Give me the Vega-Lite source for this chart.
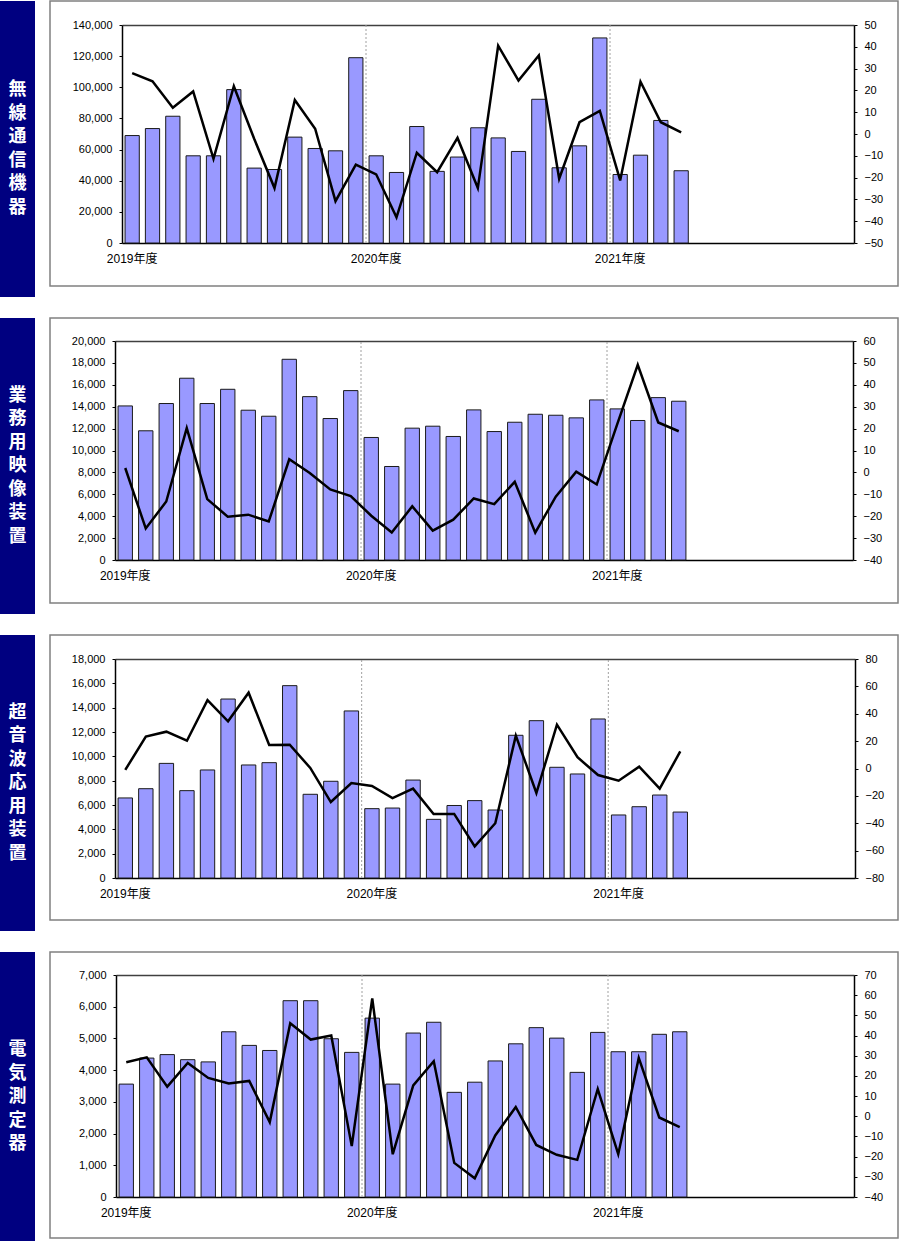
{
  "$schema": "https://vega.github.io/schema/vega-lite/v6.json",
  "padding": 0,
  "background": "white",
  "spacing": 20,
  "config": {
    "view": {"stroke": null},
    "font": "Liberation Sans, Noto Sans CJK JP",
    "axis": {"labelFont": "Liberation Sans, Noto Sans CJK JP", "labelFontSize": 11, "labelColor": "black", "domainColor": "black", "domainWidth": 1.5, "tickColor": "black", "grid": false, "title": null},
    "concat": {"spacing": 14}
  },
  "datasets": {
    "p1": [
      {"m":"2019-04","v":69000,"r":27.9},{"m":"2019-05","v":73500,"r":24.2},{"m":"2019-06","v":81400,"r":12.0},{"m":"2019-07","v":56000,"r":19.5},
      {"m":"2019-08","v":56000,"r":-11.4},{"m":"2019-09","v":98500,"r":21.9},{"m":"2019-10","v":48100,"r":-2.2},{"m":"2019-11","v":47200,"r":-24.8},
      {"m":"2019-12","v":68000,"r":15.6},{"m":"2020-01","v":60700,"r":2.4},{"m":"2020-02","v":59200,"r":-30.8},{"m":"2020-03","v":119000,"r":-14},
      {"m":"2020-04","v":56000,"r":-18.5},{"m":"2020-05","v":45300,"r":-38.2},{"m":"2020-06","v":74800,"r":-8.6},{"m":"2020-07","v":46000,"r":-17.5},
      {"m":"2020-08","v":55200,"r":-1.8},{"m":"2020-09","v":74000,"r":-24.8},{"m":"2020-10","v":67500,"r":40.5},{"m":"2020-11","v":58800,"r":24.5},
      {"m":"2020-12","v":92300,"r":36},{"m":"2021-01","v":48300,"r":-20.5},{"m":"2021-02","v":62400,"r":5.4},{"m":"2021-03","v":131700,"r":10.6},
      {"m":"2021-04","v":44000,"r":-21.3},{"m":"2021-05","v":56400,"r":24},{"m":"2021-06","v":78700,"r":5.4},{"m":"2021-07","v":46400,"r":0.8}
    ],
    "p2": [
      {"m":"2019-04","v":14070,"r":2},{"m":"2019-05","v":11800,"r":-25.6},{"m":"2019-06","v":14290,"r":-13.3},{"m":"2019-07","v":16600,"r":20.2},
      {"m":"2019-08","v":14290,"r":-12.2},{"m":"2019-09","v":15590,"r":-20.2},{"m":"2019-10","v":13680,"r":-19.3},{"m":"2019-11","v":13130,"r":-22.4},
      {"m":"2019-12","v":18330,"r":6},{"m":"2020-01","v":14920,"r":-0.3},{"m":"2020-02","v":12920,"r":-7.8},{"m":"2020-03","v":15470,"r":-10.8},
      {"m":"2020-04","v":11190,"r":-19.8},{"m":"2020-05","v":8540,"r":-27.4},{"m":"2020-06","v":12040,"r":-15.5},{"m":"2020-07","v":12220,"r":-26.6},
      {"m":"2020-08","v":11280,"r":-21.6},{"m":"2020-09","v":13710,"r":-11.9},{"m":"2020-10","v":11730,"r":-14.5},{"m":"2020-11","v":12580,"r":-4.3},
      {"m":"2020-12","v":13310,"r":-27.5},{"m":"2021-01","v":13220,"r":-11.1},{"m":"2021-02","v":12980,"r":0.3},{"m":"2021-03","v":14620,"r":-5.5},
      {"m":"2021-04","v":13800,"r":22},{"m":"2021-05","v":12740,"r":49.1},{"m":"2021-06","v":14830,"r":22.8},{"m":"2021-07","v":14500,"r":18.8}
    ],
    "p3": [
      {"m":"2019-04","v":6580,"r":-1},{"m":"2019-05","v":7340,"r":23.3},{"m":"2019-06","v":9420,"r":26.9},{"m":"2019-07","v":7180,"r":20.3},
      {"m":"2019-08","v":8880,"r":50},{"m":"2019-09","v":14710,"r":34.5},{"m":"2019-10","v":9290,"r":55.4},{"m":"2019-11","v":9480,"r":17.2},
      {"m":"2019-12","v":15810,"r":17.4},{"m":"2020-01","v":6880,"r":0.4},{"m":"2020-02","v":7950,"r":-24.5},{"m":"2020-03","v":13730,"r":-10.6},
      {"m":"2020-04","v":5700,"r":-12.8},{"m":"2020-05","v":5750,"r":-21.6},{"m":"2020-06","v":8050,"r":-14.7},{"m":"2020-07","v":4820,"r":-33.2},
      {"m":"2020-08","v":5960,"r":-33.2},{"m":"2020-09","v":6360,"r":-56.9},{"m":"2020-10","v":5590,"r":-40},{"m":"2020-11","v":11730,"r":24},
      {"m":"2020-12","v":12930,"r":-17.9},{"m":"2021-01","v":9100,"r":32},{"m":"2021-02","v":8550,"r":8.2},{"m":"2021-03","v":13070,"r":-4.8},
      {"m":"2021-04","v":5180,"r":-8.9},{"m":"2021-05","v":5860,"r":1.3},{"m":"2021-06","v":6820,"r":-14.7},{"m":"2021-07","v":5420,"r":12.5}
    ],
    "p4": [
      {"m":"2019-04","v":3560,"r":26.8},{"m":"2019-05","v":4380,"r":29.2},{"m":"2019-06","v":4490,"r":14.7},{"m":"2019-07","v":4330,"r":26.4},
      {"m":"2019-08","v":4260,"r":19},{"m":"2019-09","v":5210,"r":16.2},{"m":"2019-10","v":4780,"r":17.5},{"m":"2019-11","v":4620,"r":-2.9},
      {"m":"2019-12","v":6190,"r":46.1},{"m":"2020-01","v":6190,"r":38},{"m":"2020-02","v":4990,"r":40},{"m":"2020-03","v":4560,"r":-14.8},
      {"m":"2020-04","v":5640,"r":58.4},{"m":"2020-05","v":3560,"r":-18.8},{"m":"2020-06","v":5170,"r":15.3},{"m":"2020-07","v":5510,"r":27.3},
      {"m":"2020-08","v":3300,"r":-23.1},{"m":"2020-09","v":3620,"r":-30.7},{"m":"2020-10","v":4290,"r":-9.5},{"m":"2020-11","v":4830,"r":4.6},
      {"m":"2020-12","v":5340,"r":-14.2},{"m":"2021-01","v":5010,"r":-19.1},{"m":"2021-02","v":3930,"r":-21.6},{"m":"2021-03","v":5190,"r":13.5},
      {"m":"2021-04","v":4580,"r":-18.8},{"m":"2021-05","v":4580,"r":28.9},{"m":"2021-06","v":5130,"r":-0.6},{"m":"2021-07","v":5210,"r":-5.4}
    ],
    "fy": [{"m":"2020-04"},{"m":"2021-04"}]
  },
  "vconcat": [
    {
      "hconcat": [
        {
          "width": 35, "height": 296,
          "view": {"fill": "#000080", "stroke": null},
          "data": {"values": [{"name": "無\n線\n通\n信\n機\n器"}]},
          "mark": {"type": "text", "color": "white", "fontSize": 18, "fontWeight": "bold", "font": "Noto Sans CJK JP", "lineBreak": "\n", "lineHeight": 23.5, "align": "center", "baseline": "middle", "dy": -58.75},
          "encoding": {"text": {"field": "name", "type": "nominal"}}
        },
        {
          "width": 848, "height": 285,
          "view": {"stroke": "#808080", "strokeWidth": 1.5},
          "data": {"name": "p1"},
          "layer": [
            {
              "data": {"name": "fy"},
              "mark": {"type": "rule", "color": "#a0a0a0", "strokeDash": [2, 2], "strokeWidth": 1},
              "encoding": {
                "x": {"field": "m", "type": "ordinal", "bandPosition": 0,
                  "scale": {"type": "band", "domain": ["2019-04","2019-05","2019-06","2019-07","2019-08","2019-09","2019-10","2019-11","2019-12","2020-01","2020-02","2020-03","2020-04","2020-05","2020-06","2020-07","2020-08","2020-09","2020-10","2020-11","2020-12","2021-01","2021-02","2021-03","2021-04","2021-05","2021-06","2021-07","2021-08","2021-09","2021-10","2021-11","2021-12","2022-01","2022-02","2022-03"], "range": [72, 804], "paddingInner": 0, "paddingOuter": 0},
                  "axis": {"orient": "top", "offset": -24, "labels": false, "ticks": false, "domainColor": "#404040"}},
                "y": {"datum": 0, "type": "quantitative", "scale": {"domain": [0, 1], "range": [242, 24]}, "axis": null},
                "y2": {"datum": 1}
              }
            },
            {
              "mark": {"type": "bar", "fill": "#9999ff", "stroke": "#1a1a1a", "strokeWidth": 1, "width": {"band": 0.7}},
              "encoding": {
                "x": {"field": "m", "type": "ordinal",
                  "axis": {"orient": "bottom", "offset": -43, "values": ["2019-04","2020-04","2021-04"], "labelExpr": "substring(datum.value, 0, 4) + '年度'", "ticks": false, "labelAngle": 0, "labelFontSize": 12, "labelPadding": 10}},
                "y": {"field": "v", "type": "quantitative", "scale": {"domain": [0, 140000], "range": [242, 24], "nice": false},
                  "axis": {"orient": "left", "offset": -72, "values": [0, 20000, 40000, 60000, 80000, 100000, 120000, 140000], "format": ",d", "tickSize": 3, "labelPadding": 7}}
              }
            },
            {
              "mark": {"type": "line", "color": "black", "strokeWidth": 2.5},
              "encoding": {
                "x": {"field": "m", "type": "ordinal", "axis": null},
                "y": {"field": "r", "type": "quantitative", "scale": {"domain": [-50, 50], "range": [242, 24], "nice": false},
                  "axis": {"orient": "right", "offset": -44, "values": [-50, -40, -30, -20, -10, 0, 10, 20, 30, 40, 50], "tickSize": 3, "labelPadding": 7}}
              }
            }
          ],
          "resolve": {"scale": {"y": "independent"}, "axis": {"x": "independent"}}
        }
      ]
    },
    {
      "hconcat": [
        {
          "width": 35, "height": 296,
          "view": {"fill": "#000080", "stroke": null},
          "data": {"values": [{"name": "業\n務\n用\n映\n像\n装\n置"}]},
          "mark": {"type": "text", "color": "white", "fontSize": 18, "fontWeight": "bold", "font": "Noto Sans CJK JP", "lineBreak": "\n", "lineHeight": 23.5, "align": "center", "baseline": "middle", "dy": -70.5},
          "encoding": {"text": {"field": "name", "type": "nominal"}}
        },
        {
          "width": 848, "height": 285,
          "view": {"stroke": "#808080", "strokeWidth": 1.5},
          "data": {"name": "p2"},
          "layer": [
            {
              "data": {"name": "fy"},
              "mark": {"type": "rule", "color": "#a0a0a0", "strokeDash": [2, 2], "strokeWidth": 1},
              "encoding": {
                "x": {"field": "m", "type": "ordinal", "bandPosition": 0,
                  "scale": {"type": "band", "domain": ["2019-04","2019-05","2019-06","2019-07","2019-08","2019-09","2019-10","2019-11","2019-12","2020-01","2020-02","2020-03","2020-04","2020-05","2020-06","2020-07","2020-08","2020-09","2020-10","2020-11","2020-12","2021-01","2021-02","2021-03","2021-04","2021-05","2021-06","2021-07","2021-08","2021-09","2021-10","2021-11","2021-12","2022-01","2022-02","2022-03"], "range": [65, 803], "paddingInner": 0, "paddingOuter": 0},
                  "axis": {"orient": "top", "offset": -23, "labels": false, "ticks": false, "domainColor": "#404040"}},
                "y": {"datum": 0, "type": "quantitative", "scale": {"domain": [0, 1], "range": [242, 23]}, "axis": null},
                "y2": {"datum": 1}
              }
            },
            {
              "mark": {"type": "bar", "fill": "#9999ff", "stroke": "#1a1a1a", "strokeWidth": 1, "width": {"band": 0.7}},
              "encoding": {
                "x": {"field": "m", "type": "ordinal",
                  "axis": {"orient": "bottom", "offset": -43, "values": ["2019-04","2020-04","2021-04"], "labelExpr": "substring(datum.value, 0, 4) + '年度'", "ticks": false, "labelAngle": 0, "labelFontSize": 12, "labelPadding": 10}},
                "y": {"field": "v", "type": "quantitative", "scale": {"domain": [0, 20000], "range": [242, 23], "nice": false},
                  "axis": {"orient": "left", "offset": -65, "values": [0, 2000, 4000, 6000, 8000, 10000, 12000, 14000, 16000, 18000, 20000], "format": ",d", "tickSize": 3, "labelPadding": 7}}
              }
            },
            {
              "mark": {"type": "line", "color": "black", "strokeWidth": 2.5},
              "encoding": {
                "x": {"field": "m", "type": "ordinal", "axis": null},
                "y": {"field": "r", "type": "quantitative", "scale": {"domain": [-40, 60], "range": [242, 23], "nice": false},
                  "axis": {"orient": "right", "offset": -45, "values": [-40, -30, -20, -10, 0, 10, 20, 30, 40, 50, 60], "tickSize": 3, "labelPadding": 7}}
              }
            }
          ],
          "resolve": {"scale": {"y": "independent"}, "axis": {"x": "independent"}}
        }
      ]
    },
    {
      "hconcat": [
        {
          "width": 35, "height": 296,
          "view": {"fill": "#000080", "stroke": null},
          "data": {"values": [{"name": "超\n音\n波\n応\n用\n装\n置"}]},
          "mark": {"type": "text", "color": "white", "fontSize": 18, "fontWeight": "bold", "font": "Noto Sans CJK JP", "lineBreak": "\n", "lineHeight": 23.5, "align": "center", "baseline": "middle", "dy": -70.5},
          "encoding": {"text": {"field": "name", "type": "nominal"}}
        },
        {
          "width": 848, "height": 285,
          "view": {"stroke": "#808080", "strokeWidth": 1.5},
          "data": {"name": "p3"},
          "layer": [
            {
              "data": {"name": "fy"},
              "mark": {"type": "rule", "color": "#a0a0a0", "strokeDash": [2, 2], "strokeWidth": 1},
              "encoding": {
                "x": {"field": "m", "type": "ordinal", "bandPosition": 0,
                  "scale": {"type": "band", "domain": ["2019-04","2019-05","2019-06","2019-07","2019-08","2019-09","2019-10","2019-11","2019-12","2020-01","2020-02","2020-03","2020-04","2020-05","2020-06","2020-07","2020-08","2020-09","2020-10","2020-11","2020-12","2021-01","2021-02","2021-03","2021-04","2021-05","2021-06","2021-07","2021-08","2021-09","2021-10","2021-11","2021-12","2022-01","2022-02","2022-03"], "range": [65, 805], "paddingInner": 0, "paddingOuter": 0},
                  "axis": {"orient": "top", "offset": -24, "labels": false, "ticks": false, "domainColor": "#404040"}},
                "y": {"datum": 0, "type": "quantitative", "scale": {"domain": [0, 1], "range": [243, 24]}, "axis": null},
                "y2": {"datum": 1}
              }
            },
            {
              "mark": {"type": "bar", "fill": "#9999ff", "stroke": "#1a1a1a", "strokeWidth": 1, "width": {"band": 0.7}},
              "encoding": {
                "x": {"field": "m", "type": "ordinal",
                  "axis": {"orient": "bottom", "offset": -42, "values": ["2019-04","2020-04","2021-04"], "labelExpr": "substring(datum.value, 0, 4) + '年度'", "ticks": false, "labelAngle": 0, "labelFontSize": 12, "labelPadding": 10}},
                "y": {"field": "v", "type": "quantitative", "scale": {"domain": [0, 18000], "range": [243, 24], "nice": false},
                  "axis": {"orient": "left", "offset": -65, "values": [0, 2000, 4000, 6000, 8000, 10000, 12000, 14000, 16000, 18000], "format": ",d", "tickSize": 3, "labelPadding": 7}}
              }
            },
            {
              "mark": {"type": "line", "color": "black", "strokeWidth": 2.5},
              "encoding": {
                "x": {"field": "m", "type": "ordinal", "axis": null},
                "y": {"field": "r", "type": "quantitative", "scale": {"domain": [-80, 80], "range": [243, 24], "nice": false},
                  "axis": {"orient": "right", "offset": -43, "values": [-80, -60, -40, -20, 0, 20, 40, 60, 80], "tickSize": 3, "labelPadding": 7}}
              }
            }
          ],
          "resolve": {"scale": {"y": "independent"}, "axis": {"x": "independent"}}
        }
      ]
    },
    {
      "hconcat": [
        {
          "width": 35, "height": 290,
          "view": {"fill": "#000080", "stroke": null},
          "data": {"values": [{"name": "電\n気\n測\n定\n器"}]},
          "mark": {"type": "text", "color": "white", "fontSize": 18, "fontWeight": "bold", "font": "Noto Sans CJK JP", "lineBreak": "\n", "lineHeight": 23.5, "align": "center", "baseline": "middle", "dy": -47},
          "encoding": {"text": {"field": "name", "type": "nominal"}}
        },
        {
          "width": 848, "height": 286,
          "view": {"stroke": "#808080", "strokeWidth": 1.5},
          "data": {"name": "p4"},
          "layer": [
            {
              "data": {"name": "fy"},
              "mark": {"type": "rule", "color": "#a0a0a0", "strokeDash": [2, 2], "strokeWidth": 1},
              "encoding": {
                "x": {"field": "m", "type": "ordinal", "bandPosition": 0,
                  "scale": {"type": "band", "domain": ["2019-04","2019-05","2019-06","2019-07","2019-08","2019-09","2019-10","2019-11","2019-12","2020-01","2020-02","2020-03","2020-04","2020-05","2020-06","2020-07","2020-08","2020-09","2020-10","2020-11","2020-12","2021-01","2021-02","2021-03","2021-04","2021-05","2021-06","2021-07","2021-08","2021-09","2021-10","2021-11","2021-12","2022-01","2022-02","2022-03"], "range": [66, 804], "paddingInner": 0, "paddingOuter": 0},
                  "axis": {"orient": "top", "offset": -23, "labels": false, "ticks": false, "domainColor": "#404040"}},
                "y": {"datum": 0, "type": "quantitative", "scale": {"domain": [0, 1], "range": [245, 23]}, "axis": null},
                "y2": {"datum": 1}
              }
            },
            {
              "mark": {"type": "bar", "fill": "#9999ff", "stroke": "#1a1a1a", "strokeWidth": 1, "width": {"band": 0.7}},
              "encoding": {
                "x": {"field": "m", "type": "ordinal",
                  "axis": {"orient": "bottom", "offset": -41, "values": ["2019-04","2020-04","2021-04"], "labelExpr": "substring(datum.value, 0, 4) + '年度'", "ticks": false, "labelAngle": 0, "labelFontSize": 12, "labelPadding": 10}},
                "y": {"field": "v", "type": "quantitative", "scale": {"domain": [0, 7000], "range": [245, 23], "nice": false},
                  "axis": {"orient": "left", "offset": -66, "values": [0, 1000, 2000, 3000, 4000, 5000, 6000, 7000], "format": ",d", "tickSize": 3, "labelPadding": 7}}
              }
            },
            {
              "mark": {"type": "line", "color": "black", "strokeWidth": 2.5},
              "encoding": {
                "x": {"field": "m", "type": "ordinal", "axis": null},
                "y": {"field": "r", "type": "quantitative", "scale": {"domain": [-40, 70], "range": [245, 23], "nice": false},
                  "axis": {"orient": "right", "offset": -44, "values": [-40, -30, -20, -10, 0, 10, 20, 30, 40, 50, 60, 70], "tickSize": 3, "labelPadding": 7}}
              }
            }
          ],
          "resolve": {"scale": {"y": "independent"}, "axis": {"x": "independent"}}
        }
      ]
    }
  ]
}
